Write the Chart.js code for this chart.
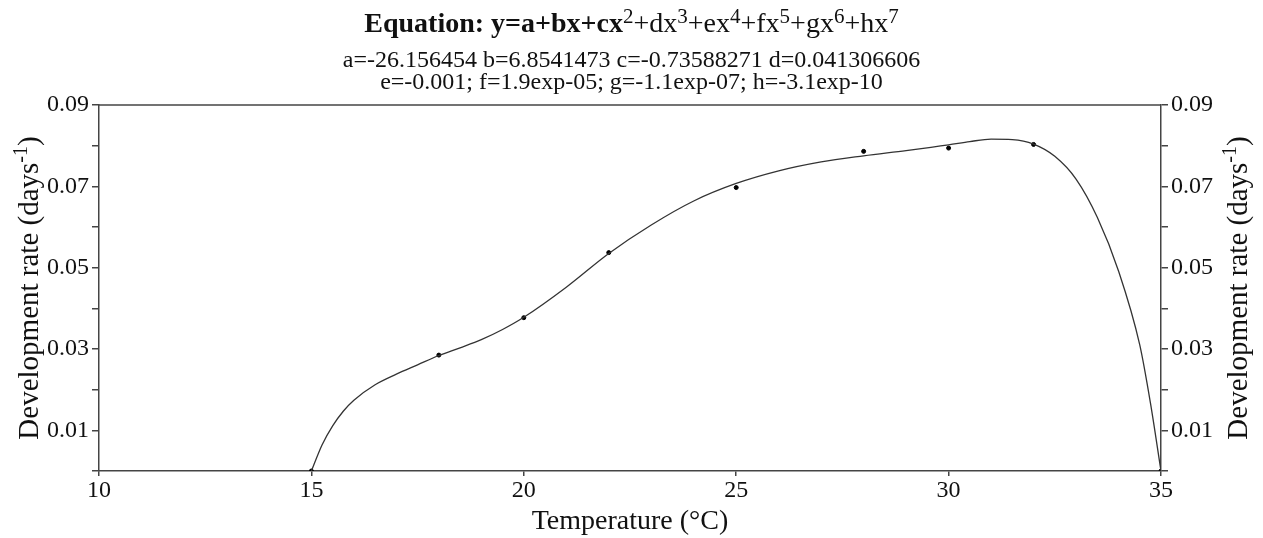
<!DOCTYPE html>
<html>
<head>
<meta charset="utf-8">
<script src="https://cdn.jsdelivr.net/npm/chart.js@4.4.1/dist/chart.umd.min.js"></script>
<style>
    body { margin: 0; background: #fff; font-family: "Liberation Serif", "Times New Roman", serif; }
    #wrap { position: relative; width: 1263px; height: 538px; }
    #chartBox { position: absolute; left: 0; top: 0; width: 1263px; height: 538px; }
    .head { position: absolute; left: 0; width: 1263px; text-align: center; color: #111; white-space: nowrap; }
    #l1 { top: 9px; font-size: 28px; line-height: 28px; }
    #l2 { top: 47px; font-size: 24px; line-height: 24px; }
    #l3 { top: 69px; font-size: 24px; line-height: 24px; }
    sup { font-size: 0.75em; vertical-align: 0.45em; line-height: 0; }
</style>
</head>
<body>
<div id="wrap">
    <div id="chartBox"><canvas id="myChart"></canvas></div>
    <div class="head" id="l1"><b>Equation: y=a+bx+cx</b><sup>2</sup>+dx<sup>3</sup>+ex<sup>4</sup>+fx<sup>5</sup>+gx<sup>6</sup>+hx<sup>7</sup></div>
    <div class="head" id="l2">a=-26.156454 b=6.8541473 c=-0.73588271 d=0.041306606</div>
    <div class="head" id="l3">e=-0.001; f=1.9exp-05; g=-1.1exp-07; h=-3.1exp-10</div>
</div>
<script>
// observed development rates
const temps = [15, 18, 20, 22, 25, 28, 30, 32, 35];
const rates = [0, 0.0285, 0.0377, 0.0537, 0.0697, 0.0786, 0.0794, 0.0803, 0];

// fitted curve
const curveTemps = [15, 15.25, 15.5, 15.75, 16, 16.5, 17, 17.5, 18, 18.5, 19, 19.5, 20, 21, 22, 23, 24, 25, 26, 27, 28, 29, 30, 30.5, 31, 31.5, 32, 32.5, 33, 33.5, 34, 34.5, 34.75, 35];
const curveRates = [0, 0.0064, 0.0111, 0.0147, 0.0174, 0.0212, 0.0238, 0.0261, 0.0284, 0.0303, 0.0323, 0.0348, 0.0378, 0.0452, 0.0535, 0.0605, 0.0664, 0.0707, 0.0738, 0.0760, 0.0775, 0.0788, 0.0802, 0.0810, 0.0816, 0.0815, 0.0804, 0.0774, 0.0718, 0.0624, 0.0492, 0.0310, 0.0168, 0];

const xTicks = [10, 15, 20, 25, 30, 35];
const yTicks = [0.01, 0.03, 0.05, 0.07, 0.09];
const yTitle = ['Development rate (days', '-1', ')'];
const xTitle = 'Temperature (\u00B0C)';

const axisColor = '#444';
const textColor = '#111';
const serif = '"Liberation Serif", "Times New Roman", serif';

function yLabel(v) {
    const k = Math.round(v * 100);
    for (let t of yTicks) {
        if (Math.round(t * 100) === k) return t.toFixed(2);
    }
    return '';
}

// rotated y title with a raised "-1"
function drawYTitle(c, cx, cy) {
    const big = '29px ' + serif;
    const small = '20px ' + serif;
    c.save();
    c.translate(cx, cy);
    c.rotate(-Math.PI / 2);
    c.fillStyle = textColor;
    c.textBaseline = 'alphabetic';
    c.textAlign = 'left';
    c.font = big;
    const w0 = c.measureText(yTitle[0]).width;
    const w2 = c.measureText(yTitle[2]).width;
    c.font = small;
    const w1 = c.measureText(yTitle[1]).width;
    let x = -(w0 + w1 + w2) / 2;
    const base = 10;
    c.font = big;
    c.fillText(yTitle[0], x, base);
    x += w0;
    c.font = small;
    c.fillText(yTitle[1], x, base - 11);
    x += w1;
    c.font = big;
    c.fillText(yTitle[2], x, base);
    c.restore();
}

// top frame line and both y titles
const framePlugin = {
    id: 'frame',
    afterDraw(chart) {
        const c = chart.ctx;
        const a = chart.chartArea;
        c.save();
        c.strokeStyle = axisColor;
        c.lineWidth = 1.5;
        c.beginPath();
        c.moveTo(a.left, a.top);
        c.lineTo(a.right, a.top);
        c.stroke();
        c.restore();
        const mid = (a.top + a.bottom) / 2;
        drawYTitle(c, 28, mid);
        drawYTitle(c, 1237, mid);
    }
};

const ctx = document.getElementById('myChart');
const myChart = new Chart(ctx, {
    type: 'scatter',
    data: {
        datasets: [{
            label: 'fit',
            data: curveTemps.map((t, i) => ({ x: t, y: curveRates[i] })),
            showLine: true,
            borderColor: '#333',
            borderWidth: 1.3,
            pointRadius: 0,
            cubicInterpolationMode: 'monotone',
            yAxisID: 'y'
        }, {
            label: 'observed',
            data: temps.map((t, i) => ({ x: t, y: rates[i] })),
            showLine: false,
            backgroundColor: '#000',
            borderColor: '#000',
            pointRadius: 2,
            yAxisID: 'y'
        }]
    },
    options: {
        responsive: false,
        animation: false,
        maintainAspectRatio: false,
        layout: { padding: { top: 105, left: 0, right: 0, bottom: 0 } },
        plugins: {
            legend: { display: false },
            tooltip: { enabled: false }
        },
        scales: {
            x: {
                type: 'linear',
                min: 10,
                max: 35,
                afterBuildTicks: (s) => { s.ticks = xTicks.map(v => ({ value: v })); },
                afterFit: (s) => { s.height = 67; },
                ticks: { color: textColor, font: { family: serif, size: 24 }, padding: 0, maxRotation: 0 },
                grid: { drawOnChartArea: false, drawTicks: true, tickLength: 5, color: axisColor, lineWidth: 1.5 },
                border: { color: axisColor, width: 1.5 },
                title: { display: true, text: xTitle, color: textColor, font: { family: serif, size: 28 }, padding: { top: 0, bottom: 0 } }
            },
            y: {
                position: 'left',
                min: 0,
                max: 0.09,
                ticks: { stepSize: 0.01, callback: yLabel, color: textColor, font: { family: serif, size: 24 }, padding: 3 },
                afterFit: (s) => { s.width = 99; },
                grid: { drawOnChartArea: false, drawTicks: true, tickLength: 7, color: axisColor, lineWidth: 1.5 },
                border: { color: axisColor, width: 1.5 }
            },
            y2: {
                position: 'right',
                min: 0,
                max: 0.09,
                ticks: { stepSize: 0.01, callback: yLabel, color: textColor, font: { family: serif, size: 24 }, padding: 3 },
                afterFit: (s) => { s.width = 102; },
                grid: { drawOnChartArea: false, drawTicks: true, tickLength: 7, color: axisColor, lineWidth: 1.5 },
                border: { color: axisColor, width: 1.5 }
            }
        }
    },
    plugins: [framePlugin]
});
myChart.resize(1263, 538);
</script>
</body>
</html>
